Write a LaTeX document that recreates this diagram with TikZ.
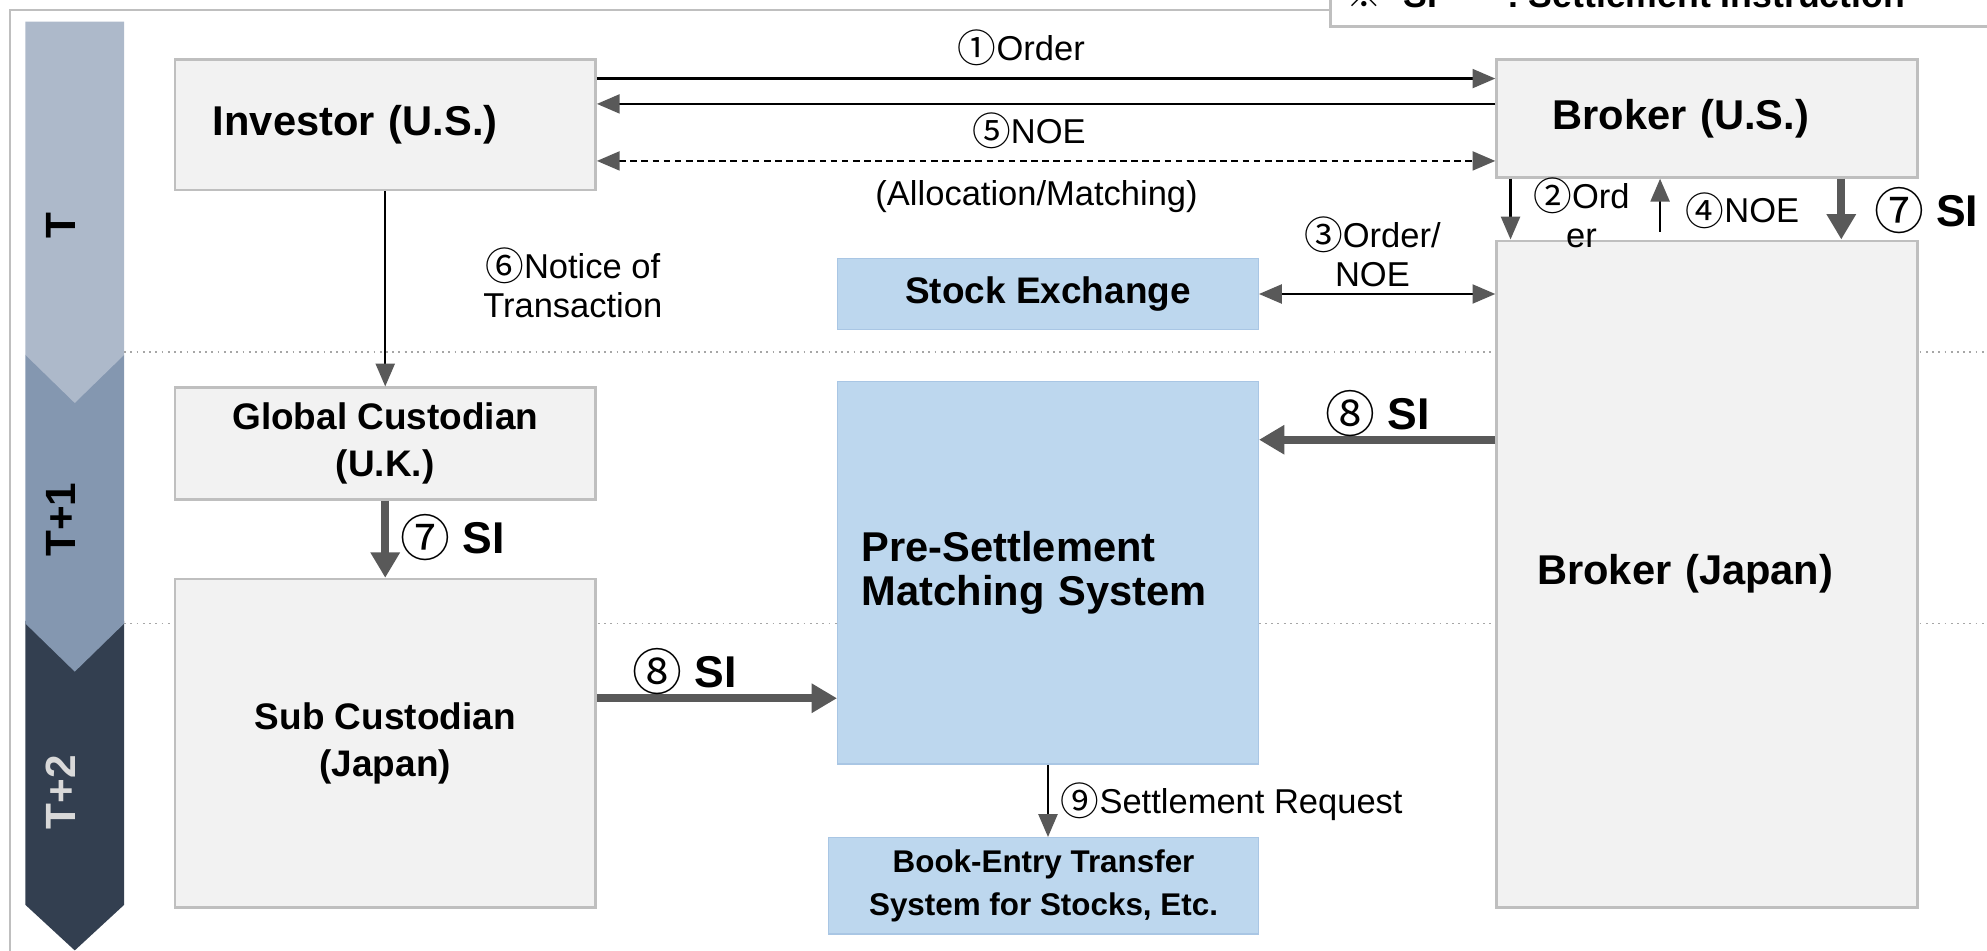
\documentclass[tikz,border=0pt]{standalone}
\usepackage{fontspec}
\usepackage{graphicx}
\setmainfont{Liberation Sans}
\newfontfamily\cjkfont{Noto Sans CJK JP}
\usetikzlibrary{arrows.meta}
\definecolor{boxgray}{HTML}{F2F2F2}
\definecolor{boxline}{HTML}{BFBFBF}
\definecolor{boxblue}{HTML}{BDD7EE}
\definecolor{blueline}{HTML}{A9C6E4}
\definecolor{arrowgray}{HTML}{595959}
\definecolor{dayone}{HTML}{ADB9CA}
\definecolor{daytwo}{HTML}{8497B0}
\definecolor{daythree}{HTML}{333F50}
\definecolor{daytext}{HTML}{D9D9D9}
\definecolor{gridgray}{HTML}{A6A6A6}
\newcommand\cnum[1]{{\cjkfont\mdseries\raisebox{-0.06em}{\scalebox{1.12}{#1}}}}

\begin{document}
\begin{tikzpicture}[x=0.02cm, y=-0.02cm,
  party/.style={draw=boxline, line width=1.2pt, fill=boxgray, align=center},
  infra/.style={draw=blueline, line width=0.6pt, fill=boxblue, align=center},
  bigtext/.style={font=\bfseries\fontsize{18.7}{22}\selectfont},
  midtext/.style={font=\bfseries\fontsize{16.6}{21}\selectfont},
  lbl/.style={font=\fontsize{15.5}{17.5}\selectfont, align=center},
  silbl/.style={font=\bfseries\fontsize{20}{24}\selectfont},
  daylbl/.style={rotate=90, font=\bfseries\fontsize{19}{20}\selectfont},
  flow/.style={line width=1pt, >={Triangle[length=0.36cm, width=0.3cm, color=arrowgray]}, ->},
  bigflow/.style={line width=3.5pt, arrowgray, >={Triangle[length=0.4cm, width=0.44cm]}, ->}]
\useasboundingbox (0,0) rectangle (1568,750);

\draw[boxline, line width=1pt] (8,760) |- (1050,8);
\fill[white] (1050,-20) rectangle (1600,21);
\draw[boxline, line width=1.2pt] (1050,-20) |- (1600,21);
\node[anchor=base west, font=\bfseries\fontsize{16}{18}\selectfont] (note) at (1056,6)
  {{\cjkfont ※}\hspace{0.35cm}SI\hspace{1.1cm}: Settlement Instruction};

\fill[daythree] (20,490) -- (98,490) -- (98,714) -- (59,750) -- (20,714) -- cycle;
\fill[daytwo] (20,280) -- (98,280) -- (98,492) -- (59,530) -- (20,492) -- cycle;
\fill[dayone] (20,17) -- (98,17) -- (98,280) -- (59,318) -- (20,280) -- cycle;
\node[daylbl] (dayt) at (48,178) {T};
\node[daylbl] (dayt1) at (48,410) {T+1};
\node[daylbl, text=daytext] (dayt2) at (48,625) {T+2};

\draw[gridgray, line width=0.8pt, dotted] (98,278) -- (1568,278);
\draw[gridgray, line width=0.8pt, dotted] (98,492) -- (1568,492);

\node[party, bigtext, minimum width=6.64cm, minimum height=2.06cm, text width=5.44cm, align=left] (inv) at (304,98.5) {Investor (U.S.)};
\node[party, bigtext, minimum width=6.64cm, minimum height=1.86cm, text width=4.88cm, align=left] (bus) at (1347,93.5) {Broker (U.S.)};
\node[party, bigtext, minimum width=6.64cm, minimum height=10.52cm, text width=5.36cm, align=left] (bjp) at (1347,453) {Broker (Japan)};
\node[party, midtext, minimum width=6.64cm, minimum height=1.76cm] (glc) at (304,350) {Global Custodian\\(U.K.)};
\node[party, midtext, minimum width=6.64cm, minimum height=5.18cm] (sub) at (304,586.5) {Sub Custodian\\(Japan)};
\node[infra, midtext, minimum width=6.64cm, minimum height=1.12cm] (stx) at (827,232) {Stock Exchange};
\node[infra, bigtext, minimum width=6.64cm, minimum height=6.04cm, text width=5.88cm, align=left] (psm) at (827,452) {Pre-Settlement\\[-2pt]Matching System};
\node[infra, font=\bfseries\fontsize{14.1}{19}\selectfont, minimum width=6.78cm, minimum height=1.52cm] (bet) at (823.5,699) {Book-Entry Transfer\\System for Stocks, Etc.};

\coordinate (y1) at (0,62);
\coordinate (y5) at (0,82);
\coordinate (ym) at (0,127);
\coordinate (x2) at (1192,0);
\coordinate (x4) at (1310,183);
\coordinate (x7) at (1453,0);
\coordinate (y8) at (0,347);
\coordinate (y8b) at (0,551);

\draw[flow] (inv.east |- y1) -- (bus.west |- y1);
\draw[flow] (bus.west |- y5) -- (inv.east |- y5);
\draw[flow, <->, dash pattern=on 3pt off 2pt] (inv.east |- ym) -- (bus.west |- ym);
\draw[flow, <->] (stx.east) -- (stx.east -| bjp.west);
\draw[flow] (bus.south -| x2) -- (bjp.north -| x2);
\draw[flow] (x4) -- (x4 |- bus.south);
\draw[bigflow] (bus.south -| x7) -- (bjp.north -| x7);
\draw[bigflow] (bjp.west |- y8) -- (psm.east |- y8);
\draw[flow] (inv.south) -- (glc.north);
\draw[bigflow] (glc.south) -- (sub.north);
\draw[bigflow] (sub.east |- y8b) -- (psm.west |- y8b);
\draw[flow] (psm.south) -- (psm.south |- bet.north);

\node[lbl] (l1) at (806,38) {\cnum{①}Order};
\node[lbl] (l5) at (812,103) {\cnum{⑤}NOE};
\node[lbl] (lm) at (818,155) {(Allocation/Matching)};
\node[lbl] (l3) at (1083,199) {\cnum{③}Order/\\NOE};
\node[lbl] (l2) at (1248,168) {\cnum{②}Ord\\er};
\node[lbl] (l4) at (1375,166) {\cnum{④}NOE};
\node[silbl] (l7r) at (1520,166) {\cnum{⑦} SI};
\node[lbl] (l6) at (452,223) {\cnum{⑥}Notice of\\Transaction};
\node[silbl] (l7l) at (357,424) {\cnum{⑦} SI};
\node[silbl] (l8r) at (1087,326) {\cnum{⑧} SI};
\node[silbl] (l8l) at (540,530) {\cnum{⑧} SI};
\node[lbl] (l9) at (972,633) {\cnum{⑨}Settlement Request};
\end{tikzpicture}
\end{document}
